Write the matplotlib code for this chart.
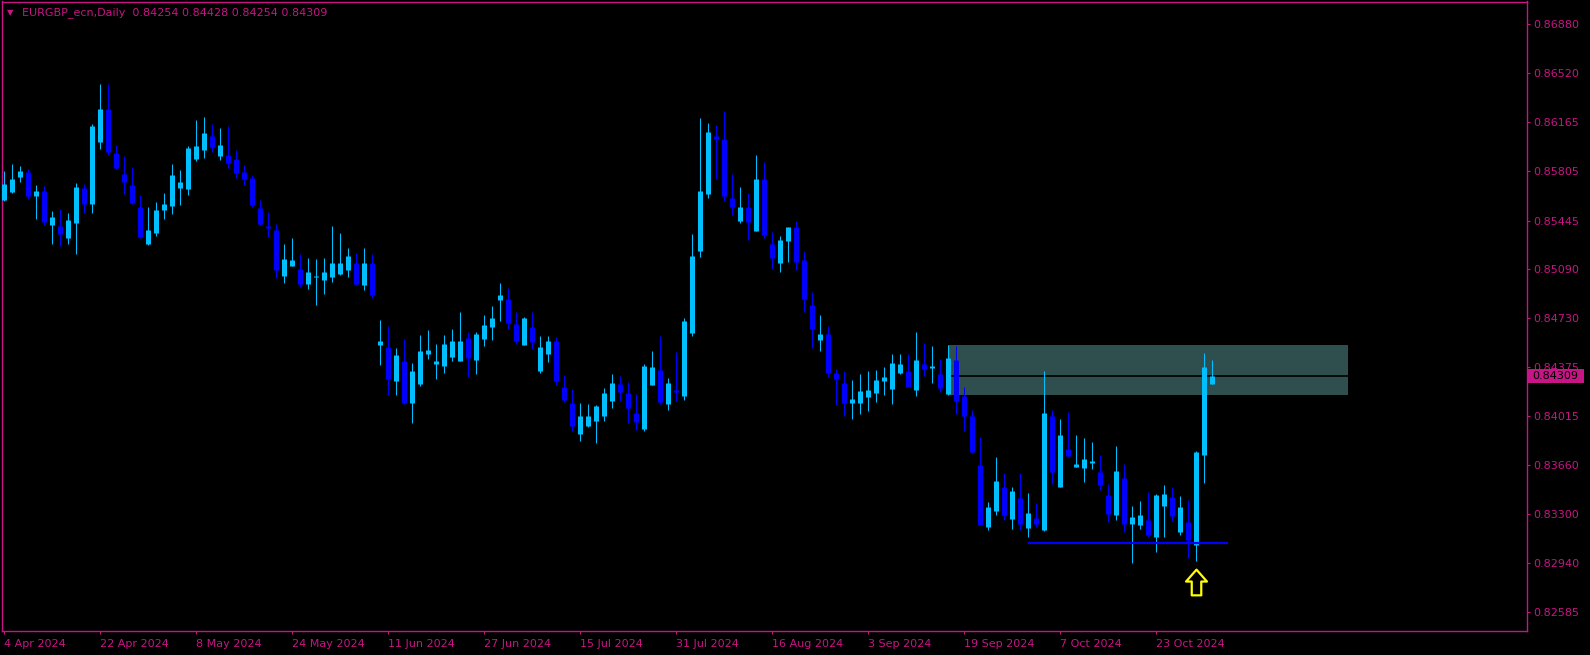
import numpy as np
import matplotlib
matplotlib.use("Agg")
import matplotlib.pyplot as plt
from matplotlib.patches import Rectangle
from matplotlib.path import Path

# EURGBP_ecn daily bars, 4 Apr 2024 .. 1 Nov 2024, prices in points (1e-5)
opens = np.array([
    85598, 85654, 85766, 85800, 85627, 85654, 85415, 85405, 85320, 85430,
    85676, 85568, 86021, 86260, 85932, 85785, 85705, 85544, 85276, 85356,
    85525, 85554, 85685, 85678, 85897, 85963, 86056, 85924, 85924, 85888,
    85800, 85756, 85537, 85405, 85369, 85042, 85120, 85084, 84984, 85033,
    85013, 85035, 85057, 85086, 85128, 84977, 85128, 84538, 84521, 84275,
    84412, 84114, 84253, 84477, 84399, 84385, 84450, 84421, 84587, 84428,
    84582, 84670, 84867, 84865, 84689, 84538, 84667, 84348, 84472, 84565,
    84229, 84112, 83888, 83946, 83983, 84019, 84129, 84244, 84185, 84032,
    83924, 84246, 84353, 84107, 84207, 84165, 84626, 85225, 85641, 86063,
    86041, 85603, 85444, 85544, 85371, 85742, 85267, 85137, 85298, 85391,
    85150, 84821, 84575, 84616, 84329, 84251, 84114, 84114, 84158, 84187,
    84275, 84217, 84334, 84339, 84209, 84397, 84370, 84317, 84178, 84419,
    84163, 84017, 83652, 83213, 83323, 83498, 83265, 83411, 83199, 83265,
    83191, 84017, 83500, 83769, 83647, 83639, 83676, 83601, 83435, 83296,
    83564, 83230, 83223, 83250, 83135, 83362, 83420, 83172, 83237, 83077,
    83734, 84254]) / 1e5
highs = np.array([
    85807, 85859, 85844, 85820, 85705, 85698, 85515, 85530, 85498, 85720,
    85712, 86151, 86443, 86443, 85997, 85917, 85837, 85632, 85544, 85581,
    85647, 85859, 85815, 85990, 86180, 86202, 86151, 86122, 86136, 85961,
    85851, 85778, 85595, 85508, 85420, 85274, 85318, 85201, 85172, 85164,
    85172, 85405, 85354, 85245, 85208, 85245, 85201, 84719, 84675, 84514,
    84580, 84404, 84609, 84646, 84543, 84609, 84653, 84777, 84631, 84631,
    84755, 84821, 84989, 84952, 84777, 84740, 84777, 84602, 84602, 84594,
    84317, 84214, 84112, 84105, 84098, 84222, 84324, 84309, 84266, 84178,
    84397, 84492, 84602, 84295, 84485, 84733, 85347, 86195, 86158, 86143,
    86246, 85785, 85690, 85647, 85924, 85873, 85362, 85332, 85398, 85442,
    85223, 84923, 84755, 84675, 84363, 84348, 84280, 84324, 84346, 84353,
    84375, 84470, 84470, 84470, 84631, 84551, 84529, 84434, 84536, 84529,
    84229, 84061, 83864, 83389, 83718, 83601, 83498, 83601, 83454, 83381,
    84346, 84061, 83995, 84046, 83878, 83856, 83827, 83732, 83522, 83798,
    83669, 83360, 83396, 83464, 83449, 83513, 83500, 83432, 83403, 83761,
    84477, 84428]) / 1e5
lows = np.array([
    85590, 85647, 85729, 85605, 85457, 85415, 85276, 85262, 85276, 85203,
    85503, 85503, 85970, 85926, 85824, 85641, 85568, 85320, 85267, 85335,
    85459, 85495, 85561, 85634, 85883, 85905, 85946, 85888, 85829, 85756,
    85705, 85542, 85410, 85325, 85028, 84991, 85115, 84962, 84947, 84830,
    84911, 84998, 85050, 85035, 84977, 84940, 84882, 84392, 84173, 84173,
    84107, 83968, 84239, 84436, 84290, 84334, 84421, 84421, 84304, 84326,
    84531, 84575, 84714, 84655, 84545, 84538, 84509, 84334, 84414, 84246,
    84122, 83910, 83837, 83939, 83822, 83983, 84078, 84129, 83968, 83917,
    83910, 84246, 84107, 84063, 84129, 84136, 84604, 85181, 85612, 85751,
    85590, 85488, 85430, 85305, 85371, 85320, 85093, 85072, 85145, 85086,
    84779, 84516, 84494, 84304, 84100, 84019, 83997, 84034, 84056, 84122,
    84173, 84107, 84326, 84231, 84165, 84309, 84258, 84193, 84171, 84032,
    83907, 83747, 83221, 83184, 83294, 83257, 83191, 83184, 83133, 83206,
    83177, 83522, 83500, 83725, 83647, 83537, 83632, 83479, 83245, 83259,
    83172, 82945, 83194, 83135, 83026, 83135, 83252, 83150, 82982, 82960,
    83530, 84254]) / 1e5
closes = np.array([
    85712, 85742, 85807, 85627, 85661, 85437, 85464, 85349, 85449, 85690,
    85568, 86136, 86260, 85948, 85831, 85729, 85576, 85327, 85369, 85522,
    85566, 85771, 85720, 85975, 85990, 86085, 85983, 85997, 85866, 85800,
    85756, 85559, 85427, 85396, 85091, 85164, 85150, 84984, 85069, 85040,
    85069, 85135, 85128, 85179, 84984, 85128, 84903, 84558, 84290, 84456,
    84114, 84339, 84485, 84499, 84412, 84543, 84558, 84565, 84443, 84609,
    84682, 84726, 84894, 84699, 84567, 84726, 84560, 84514, 84565, 84275,
    84136, 83946, 84010, 84010, 84083, 84178, 84251, 84195, 84078, 83975,
    84382, 84368, 84122, 84251, 84195, 84704, 85179, 85661, 86092, 86043,
    85627, 85546, 85544, 85437, 85742, 85342, 85177, 85303, 85391, 85145,
    84874, 84655, 84616, 84334, 84290, 84114, 84141, 84193, 84207, 84280,
    84295, 84404, 84397, 84231, 84426, 84363, 84382, 84224, 84434, 84127,
    84019, 83761, 83221, 83345, 83542, 83294, 83469, 83235, 83301, 83235,
    84039, 83610, 83871, 83732, 83666, 83696, 83688, 83515, 83303, 83615,
    83230, 83274, 83289, 83150, 83435, 83442, 83289, 83347, 83113, 83747,
    84368, 84309]) / 1e5

date_labels = ["4 Apr 2024", "22 Apr 2024", "8 May 2024", "24 May 2024",
               "11 Jun 2024", "27 Jun 2024", "15 Jul 2024", "31 Jul 2024",
               "16 Aug 2024", "3 Sep 2024", "19 Sep 2024", "7 Oct 2024",
               "23 Oct 2024"]
price_ticks = [0.86880, 0.86520, 0.86165, 0.85805, 0.85445, 0.85090, 0.84730,
               0.84375, 0.84015, 0.83660, 0.83300, 0.82940, 0.82585]

# objects drawn on the chart
zone_bars = (118, 168)
zone_prices = (0.84171, 0.84536)
support_bars = (128, 153)
support_price = 0.83091
arrow_bar = 149
arrow_price = 0.82806

symbol = "EURGBP_ecn"
period = "Daily"

PINK = "#C71585"
BULL = "#00BFFF"
BEAR = "#0000FF"
FONT = "DejaVu Sans"
FS = 8

W, H = 1590, 655
fig = plt.figure(figsize=(W / 100, H / 100), dpi=100, facecolor="black")
ax = fig.add_axes([2 / W, (H - 631) / H, (1526.7 - 2) / W, (631 - 1.5) / H])
ax.set_facecolor("black")
ylo, yhi = 0.82446, 0.87046
px = (yhi - ylo) / 629.5   # price per pixel

x = np.arange(len(opens))
up = closes >= opens
colors = np.where(up, BULL, BEAR)

# wicks and bodies
ax.vlines(x, lows, highs, colors=colors, lw=0.75, zorder=2)
bottoms = np.minimum(opens, closes) - 0.5 * px
tops = np.maximum(opens, closes) + 0.5 * px
ax.vlines(x, bottoms, tops, colors=colors, lw=3.6, zorder=3, capstyle="butt")

# supply zone rectangle and bid line
ax.add_patch(Rectangle((zone_bars[0], zone_prices[0]), zone_bars[1] - zone_bars[0],
                       zone_prices[1] - zone_prices[0], fc="#2F4F4F", ec="none", zorder=0.5))
ax.axhline(closes[-1], color="black", lw=1.2, zorder=1)

# support line
ax.hlines(support_price, support_bars[0], support_bars[1], color=BEAR, lw=1.6, zorder=5)

# up arrow marker
verts = [(0, 13.5), (11, 1), (5, 1), (5, -13.5), (-5, -13.5), (-5, 1), (-11, 1), (0, 13.5)]
codes = [Path.MOVETO] + [Path.LINETO] * 6 + [Path.CLOSEPOLY]
arrow = Path(verts, codes)
ax.plot([arrow_bar], [arrow_price], marker=arrow, markersize=18.5, mfc="none",
        mec="#FFFF00", mew=1.6, ls="none", zorder=6)

ax.set_xlim(-0.2, 190.4)
ax.set_ylim(ylo, yhi)

for s in ax.spines.values():
    s.set_color(PINK)
    s.set_linewidth(1.0)

ax.yaxis.tick_right()
ax.set_yticks(price_ticks)
ax.set_yticklabels([f"{p:.5f}" for p in price_ticks], fontsize=FS, color=PINK, family=FONT)
ax.tick_params(axis="y", length=2.5, width=0.8, color=PINK, pad=2.5)

ax.set_xticks(np.arange(len(date_labels)) * 12)
ax.set_xticklabels(date_labels, fontsize=FS, color=PINK, family=FONT, ha="left")
ax.tick_params(axis="x", length=2.5, width=0.8, color=PINK, pad=3.5)

# current price box on the price scale
ax.add_patch(Rectangle((1.0009, closes[-1] - 6.8 * px), 56 / 1524.7, 13.6 * px,
                       transform=ax.get_yaxis_transform(), fc=PINK, ec="none",
                       clip_on=False, zorder=10))
ax.text(1 + 5.5 / 1524.7, closes[-1], f"{closes[-1]:.5f}", transform=ax.get_yaxis_transform(),
        ha="left", va="center", fontsize=FS, color="black", family=FONT, zorder=11,
        clip_on=False)

# header line
fig.text(7 / W, 1 - 12.5 / H, "\u25bc", fontsize=6, color=PINK, va="center", ha="left",
         family="DejaVu Sans")
header = f"{symbol},{period}  {opens[-1]:.5f} {highs[-1]:.5f} {lows[-1]:.5f} {closes[-1]:.5f}"
fig.text(21.5 / W, 1 - 12.5 / H, header, fontsize=FS, color=PINK, va="center", ha="left",
         family=FONT)

fig.savefig("out.png", dpi=100, facecolor="black")
